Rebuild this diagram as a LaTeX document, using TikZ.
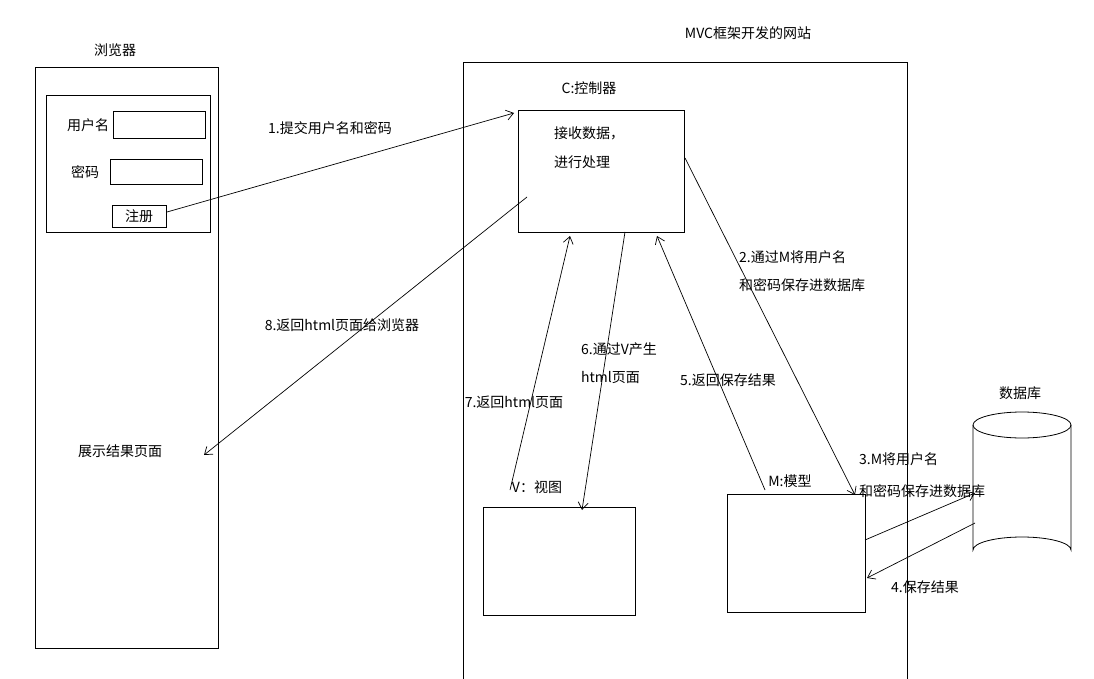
\documentclass[tikz,border=0pt]{standalone}
\usepackage{fontspec}
\setmainfont{Noto Sans CJK SC}
\usetikzlibrary{arrows.meta}
\begin{document}
\begin{tikzpicture}[x=1pt,y=-1pt,
  box/.style={draw,line width=0.8pt},
  lbl/.style={font=\fontsize{14}{17}\selectfont,inner sep=1pt},
  arr/.style={draw,line width=0.7pt,-{Straight Barb[length=7pt,width=10pt]}}]
\useasboundingbox (0,0) rectangle (1094,679);
% browser
\node[lbl] (tb) at (115,50) {浏览器};
\draw[box] (35,67) rectangle (218,648);
\draw[box] (46,95) rectangle (210,232);
\node[lbl] (un) at (88,125) {用户名};
\draw[box] (113,111) rectangle (205,138);
\node[lbl] (pw) at (85,172) {密码};
\draw[box] (110,159) rectangle (202,184);
\node[box,lbl,minimum width=54pt,minimum height=22pt] (reg) at (139,216.5) {注册};
\node[lbl] (show) at (120,451) {展示结果页面};
\coordinate (showR) at (204,455);
% website
\node[lbl] (tw) at (748,33) {MVC框架开发的网站};
\draw[box] (463,679) -- (463,62) -- (907,62) -- (907,679);
\node[lbl] (cl) at (589,88) {C:控制器};
\draw[box] (518,110) rectangle (684,232);
\node[lbl,anchor=west] at (553,133) {接收数据，};
\node[lbl,anchor=west] at (553,162) {进行处理};
\node[lbl] at (537,487) {V：视图};
\draw[box] (483,507) rectangle (635,615);
\node[lbl] at (790,481) {M:模型};
\draw[box] (727,494) rectangle (865,612);
% database
\node[lbl] at (1020,393) {数据库};
\draw[box] (1022,425) ellipse (49 and 13);
\draw[box] (973,425) -- (973,550) arc (180:360:49 and 13) -- (1071,425);
% arrows
\draw[arr] (167,212) -- (514,113);
\node[lbl] at (330,128) {1.提交用户名和密码};
\draw[arr] (685,158) -- (855,495);
\node[lbl,anchor=west] at (738,257) {2.通过M将用户名};
\node[lbl,anchor=west] at (738,285) {和密码保存进数据库};
\draw[arr] (865,540) -- (975,493);
\node[lbl,anchor=west] at (858,459) {3.M将用户名};
\node[lbl,anchor=west] at (858,491) {和密码保存进数据库};
\draw[arr] (975,523) -- (867,578);
\node[lbl,anchor=west] at (890,587) {4.保存结果};
\draw[arr] (765,490) -- (657,236);
\node[lbl] at (728,380) {5.返回保存结果};
\draw[arr] (625,232) -- (582,510);
\node[lbl,anchor=west] at (580,349) {6.通过V产生};
\node[lbl,anchor=west] at (580,378) {html页面};
\draw[arr] (510,490) -- (570,236);
\node[lbl] at (514,402) {7.返回html页面};
\draw[arr] (527,197) -- (showR);
\node[lbl] at (342,325) {8.返回html页面给浏览器};
\end{tikzpicture}
\end{document}
